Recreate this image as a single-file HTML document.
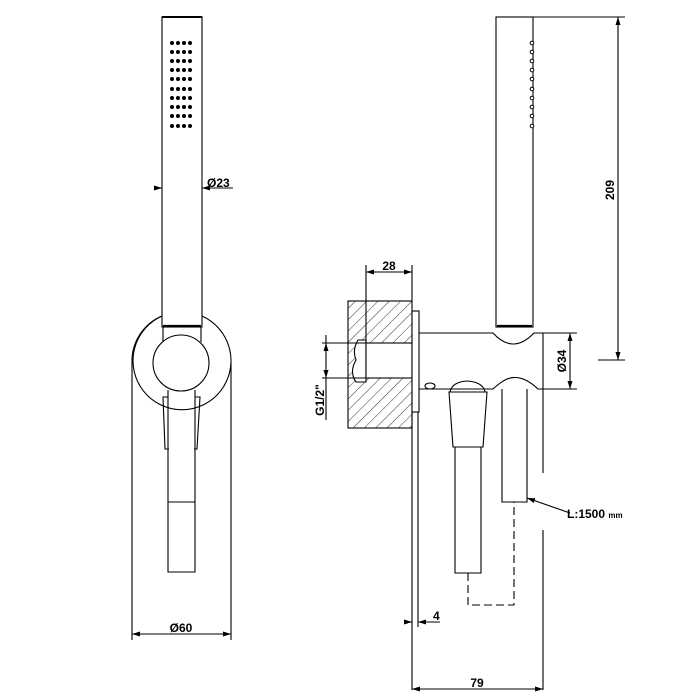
<!DOCTYPE html>
<html><head><style>html,body{margin:0;padding:0;background:#fff}svg{display:block}</style></head>
<body>
<svg width="700" height="700" viewBox="0 0 700 700" xmlns="http://www.w3.org/2000/svg" font-family="Liberation Sans, sans-serif" font-weight="bold">
<defs>
<pattern id="h" width="8" height="8" patternUnits="userSpaceOnUse" patternTransform="rotate(45)">
<line x1="0" y1="0" x2="0" y2="8" stroke="#000" stroke-width="0.8"/>
</pattern>
<marker id="a" markerWidth="8" markerHeight="5" refX="8" refY="2.5" orient="auto-start-reverse" markerUnits="userSpaceOnUse">
<path d="M0,0 L8,2.5 L0,5 z" fill="#000"/>
</marker>
</defs>
<g fill="none" stroke="#000" stroke-width="1.1">
<rect x="162" y="17" width="40" height="310"/>
<line x1="162" y1="17" x2="202" y2="17" stroke-width="2"/>
<line x1="163" y1="326" x2="201" y2="326" stroke-width="2.2"/>
<path d="M163,327 V342 M201,327 V342"/>
<path d="M162,316 A49,49 0 1 0 202,316"/>
<path d="M162,316 A49,49 0 0 0 132,363"/>
<circle cx="181" cy="363" r="28"/>
<path d="M168,390 V572 H195 V390"/>
<line x1="168" y1="502" x2="195" y2="502"/>
<path d="M168,397 H163 L165,449 H169"/>
<path d="M195,397 H200 L197,449 H194"/>
<path d="M132,363 V640 M231,363 V640"/>
<line x1="132" y1="634" x2="231" y2="634" marker-start="url(#a)" marker-end="url(#a)"/>
<line x1="155" y1="188" x2="162" y2="188" marker-end="url(#a)"/>
<line x1="233" y1="188" x2="202" y2="188" marker-end="url(#a)"/>
<rect x="348" y="301" width="64" height="127" fill="url(#h)"/>
<path d="M366,340 H358 Q352,350 356,360 Q349,372 356,382 H366 Z" fill="#fff" stroke="#000"/>
<rect x="366" y="343" width="46" height="35" fill="#fff" stroke="#000"/>
<rect x="412" y="311" width="7" height="101" fill="#fff"/>
<path d="M412,412 V690 M418,412 V627"/>
<path d="M366,265 V343 M412,265 V301"/>
<line x1="366" y1="272" x2="412" y2="272" marker-start="url(#a)" marker-end="url(#a)"/>
<path d="M322,343 H366 M322,378 H366"/>
<line x1="326" y1="343" x2="326" y2="378" marker-start="url(#a)" marker-end="url(#a)"/>
<path d="M326,335 V343 M326,378 V420"/>
<path d="M419,333 H493 Q513,355 534,333 H543 V389 H538 Q520,372 505,380 Q498,384 493,389 H419"/>
<ellipse cx="430" cy="386" rx="5" ry="3"/>
<rect x="496" y="17" width="37" height="310"/>
<line x1="497" y1="326" x2="532" y2="326" stroke-width="2.2"/>
<path d="M450,392 Q452,382 467,381 Q483,382 485,392 Z"/>
<path d="M449,392 H487 L483,447 H453 Z"/>
<path d="M455,447 V573 H481 V447"/>
<path d="M468,573 V605 H514 V502" stroke-dasharray="8,4"/>
<path d="M502,389 V502 H527 V389"/>
<path d="M543,389 V473 M543,530 V690"/>
<line x1="570" y1="513" x2="527" y2="498" marker-end="url(#a)"/>
<path d="M533,17 H625 M598,360 H625"/>
<line x1="618" y1="17" x2="618" y2="360" marker-start="url(#a)" marker-end="url(#a)"/>
<path d="M543,333 H577 M543,389 H577"/>
<line x1="570" y1="333" x2="570" y2="389" marker-start="url(#a)" marker-end="url(#a)"/>
<line x1="404" y1="622" x2="412" y2="622" marker-end="url(#a)"/>
<line x1="440" y1="622" x2="418" y2="622" marker-end="url(#a)"/>
<line x1="412" y1="689" x2="543" y2="689" marker-start="url(#a)" marker-end="url(#a)"/>
</g>
<g fill="#000">
<circle cx="172" cy="43" r="2"/><circle cx="178" cy="43" r="2"/><circle cx="184" cy="43" r="2"/><circle cx="190" cy="43" r="2"/>
<circle cx="172" cy="52" r="2"/><circle cx="178" cy="52" r="2"/><circle cx="184" cy="52" r="2"/><circle cx="190" cy="52" r="2"/>
<circle cx="172" cy="61" r="2"/><circle cx="178" cy="61" r="2"/><circle cx="184" cy="61" r="2"/><circle cx="190" cy="61" r="2"/>
<circle cx="172" cy="70" r="2"/><circle cx="178" cy="70" r="2"/><circle cx="184" cy="70" r="2"/><circle cx="190" cy="70" r="2"/>
<circle cx="172" cy="79" r="2"/><circle cx="178" cy="79" r="2"/><circle cx="184" cy="79" r="2"/><circle cx="190" cy="79" r="2"/>
<circle cx="172" cy="89" r="2"/><circle cx="178" cy="89" r="2"/><circle cx="184" cy="89" r="2"/><circle cx="190" cy="89" r="2"/>
<circle cx="172" cy="98" r="2"/><circle cx="178" cy="98" r="2"/><circle cx="184" cy="98" r="2"/><circle cx="190" cy="98" r="2"/>
<circle cx="172" cy="107" r="2"/><circle cx="178" cy="107" r="2"/><circle cx="184" cy="107" r="2"/><circle cx="190" cy="107" r="2"/>
<circle cx="172" cy="116" r="2"/><circle cx="178" cy="116" r="2"/><circle cx="184" cy="116" r="2"/><circle cx="190" cy="116" r="2"/>
<circle cx="172" cy="126" r="2"/><circle cx="178" cy="126" r="2"/><circle cx="184" cy="126" r="2"/><circle cx="190" cy="126" r="2"/>
</g>
<g fill="#fff" stroke="#000" stroke-width="1">
<circle cx="532" cy="43" r="1.8"/><circle cx="532" cy="52" r="1.8"/><circle cx="532" cy="61" r="1.8"/><circle cx="532" cy="70" r="1.8"/><circle cx="532" cy="79" r="1.8"/>
<circle cx="532" cy="89" r="1.8"/><circle cx="532" cy="98" r="1.8"/><circle cx="532" cy="107" r="1.8"/><circle cx="532" cy="116" r="1.8"/><circle cx="532" cy="126" r="1.8"/>
</g>
<g font-size="12" fill="#000">
<text x="207" y="187">Ø23</text>
<text x="181" y="632" text-anchor="middle">Ø60</text>
<text x="389" y="270" text-anchor="middle">28</text>
<text x="433" y="620">4</text>
<text x="477" y="687" text-anchor="middle">79</text>
<text x="567" y="518">L:1500 <tspan font-size="8">mm</tspan></text>
<text transform="translate(324,400) rotate(-90)" text-anchor="middle">G1/2"</text>
<text transform="translate(614,190) rotate(-90)" text-anchor="middle">209</text>
<text transform="translate(566,361) rotate(-90)" text-anchor="middle">Ø34</text>
</g>
</svg>
</body></html>
